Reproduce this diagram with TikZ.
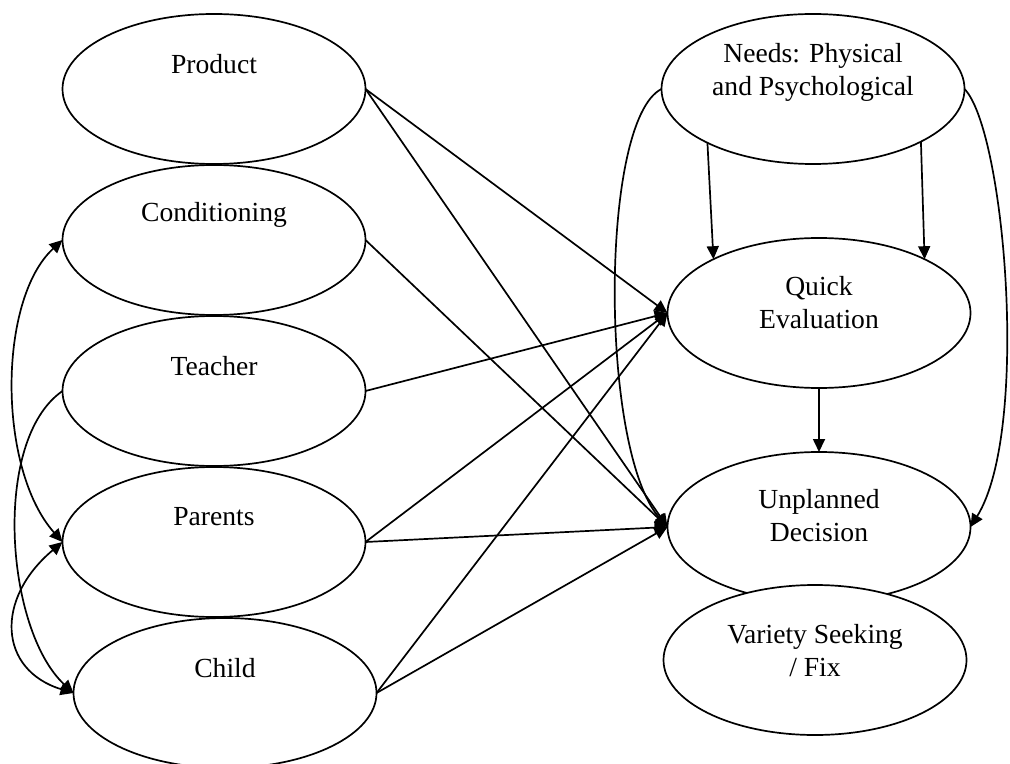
\documentclass[tikz,border=0pt]{standalone}
\usepackage{fontspec}
\setmainfont{Liberation Serif}
\usetikzlibrary{arrows.meta}
\usetikzlibrary{shapes.geometric}
\newcommand{\ovaltext}{\fontsize{13.8pt}{16.5pt}\selectfont}
\tikzset{
  oval/.style={ellipse, draw, line width=0.85pt, fill=white, minimum width=151.5pt, minimum height=75pt, inner sep=0pt, outer sep=0pt},
  lbl/.style={font=\ovaltext, align=center, inner sep=0pt},
  arr/.style={line width=0.85pt, -{Triangle[length=6.5pt,width=6pt]}},
  twoarr/.style={line width=0.85pt, {Triangle[length=6.5pt,width=6pt]}-{Triangle[length=6.5pt,width=6pt]}}
}

\begin{document}
\begin{tikzpicture}[x=0.5pt, y=-0.5pt]
\useasboundingbox (0,0) rectangle (1010,764);
\fill[white] (0,0) rectangle (1010,764);
\node[oval, label={[lbl,yshift=12.5pt]center:Product}] (product) at (214,89) {};
\node[oval, label={[lbl,yshift=12.5pt]center:Conditioning}] (cond) at (214,240) {};
\node[oval, label={[lbl,yshift=12.5pt]center:Teacher}] (teacher) at (214,391) {};
\node[oval, label={[lbl,yshift=12.5pt]center:Parents}] (parents) at (214,542) {};
\node[oval, label={[lbl,yshift=12.5pt]center:Child}] (child) at (225,693) {};
\node[oval, label={[lbl,yshift=8.5pt]center:{Needs: Physical\\and Psychological}}] (needs) at (813,89) {};
\node[oval, label={[lbl,yshift=5.25pt]center:{Quick\\Evaluation}}] (quick) at (819,313) {};
\node[oval, label={[lbl,yshift=5.5pt]center:{Unplanned\\Decision}}] (unplanned) at (819,527) {};
\node[oval, label={[lbl,yshift=4.5pt]center:{Variety Seeking\\/ Fix}}] (variety) at (815,660) {};
\draw[arr] (product.east) -- (quick.west);
\draw[arr] (product.east) -- (unplanned.west);
\draw[arr] (cond.east) -- (unplanned.west);
\draw[arr] (teacher.east) -- (quick.west);
\draw[arr] (parents.east) -- (quick.west);
\draw[arr] (parents.east) -- (unplanned.west);
\draw[arr] (child.east) -- (quick.west);
\draw[arr] (child.east) -- (unplanned.west);
\draw[arr] (needs.207) -- (quick.153);
\draw[arr] (needs.334) -- (quick.27);
\draw[arr] (quick.south) -- (unplanned.north);
\draw[arr] (needs.east) .. controls +(40,41) and +(60,-97) .. (unplanned.east);
\draw[arr] (needs.west) .. controls +(-62,31) and +(-68,-77) .. (unplanned.west);
\draw[twoarr] (cond.west) .. controls +(-65,60) and +(-65,-73) .. (parents.west);
\draw[arr] (teacher.west) .. controls +(-71,49) and +(-68,-63) .. (child.west);
\draw[twoarr] (parents.west) .. controls +(-68,57) and +(-75,-23) .. (child.west);
\end{tikzpicture}
\end{document}
